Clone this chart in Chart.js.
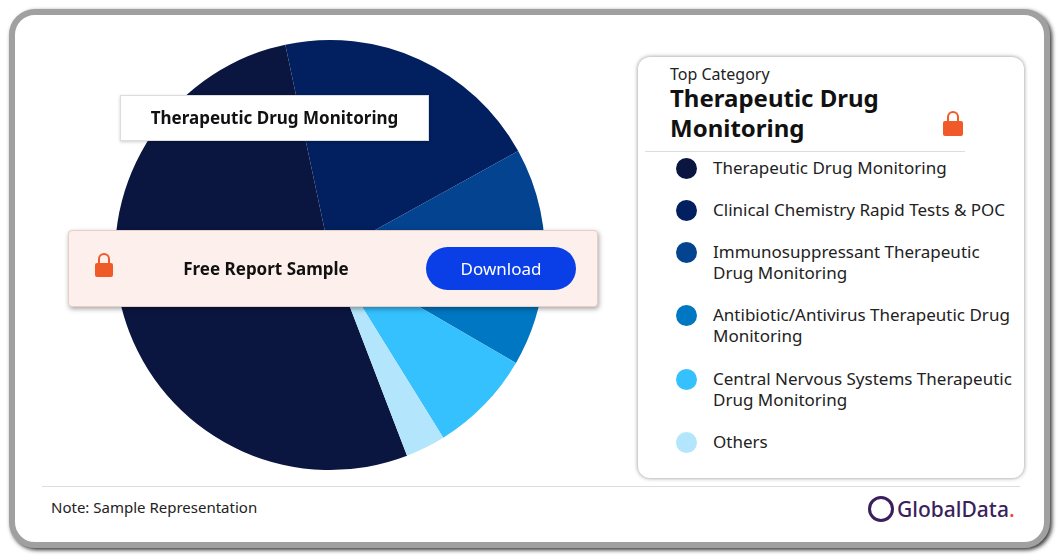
<!DOCTYPE html>
<html><head><meta charset="utf-8">
<script src="https://cdn.jsdelivr.net/npm/chart.js@4"></script>
<style>
body{margin:0;width:1059px;height:555px;background:#fff;font-family:"Noto Sans","Open Sans",sans-serif;position:relative;overflow:hidden}
#frame{position:absolute;left:9px;top:9px;width:1029px;height:527px;border:6px solid #a0a0a0;border-radius:26px;box-shadow:2px 2px 4px #333;background:#fff}
#pie{position:absolute;left:110px;top:35px;width:440px;height:440px}
.abs{position:absolute}
#legbox{left:638px;top:57px;width:386px;height:421px;border-radius:12px;box-shadow:0 0 4px rgba(0,0,0,.45);background:#fff}
.item{position:absolute;left:713px;font-size:17px;color:#222;line-height:21px;width:300px}
.dot{position:absolute;left:676px;width:21px;height:21px;border-radius:50%}
</style></head><body>
<div id="frame"></div>
<div class="abs" style="left:42px;top:486px;width:978px;height:1px;background:#ddd"></div>
<div class="abs" style="left:51px;top:497px;font-size:15px;color:#222">Note: Sample Representation</div>
<div class="abs" style="left:868px;top:495px;font-size:21px;color:#3a1f5c;font-weight:500"><span style="display:inline-block;width:20px;height:20px;border:3px solid #3a1f5c;border-radius:50%;vertical-align:-5px;margin-right:3px"></span>GlobalData<span style="color:#e94e1b">.</span></div>
<div id="pie"><canvas id="c" width="440" height="440"></canvas></div>
<div class="abs" style="left:120px;top:95px;width:307px;height:44px;background:#fff;border:1px solid #ddd;box-shadow:0 1px 3px rgba(0,0,0,.2);text-align:center;line-height:44px;font-weight:bold;font-size:17px;color:#111">Therapeutic Drug Monitoring</div>
<div class="abs" style="left:68px;top:230px;width:528px;height:75px;background:#fdf0ec;border:1px solid #e6cfc8;border-radius:4px;box-shadow:1px 2px 5px rgba(0,0,0,.35)"></div>
<div class="abs" style="left:95px;top:263px;width:18px;height:14px;background:#f05a28;border-radius:2px"></div>
<div class="abs" style="left:98px;top:253px;width:8px;height:10px;border:2px solid #f05a28;border-bottom:none;border-radius:6px 6px 0 0"></div>
<div class="abs" style="left:160px;top:257px;width:212px;text-align:center;font-weight:bold;font-size:17px;color:#111">Free Report Sample</div>
<div class="abs" style="left:426px;top:247px;width:150px;height:43px;border-radius:22px;background:#0a3ee6;color:#fff;font-size:17px;text-align:center;line-height:43px">Download</div>
<div id="legbox" class="abs"></div>
<div class="abs" style="left:670px;top:63px;font-size:16px;color:#222">Top Category</div>
<div class="abs" style="left:670px;top:83px;font-size:24px;font-weight:bold;color:#111;line-height:30px;width:240px">Therapeutic Drug Monitoring</div>
<div class="abs" style="left:943px;top:121px;width:20px;height:15px;background:#f05a28;border-radius:2px"></div>
<div class="abs" style="left:947px;top:111px;width:8px;height:10px;border:2px solid #f05a28;border-bottom:none;border-radius:6px 6px 0 0"></div>
<div class="abs" style="left:645px;top:151px;width:320px;height:1px;background:#ddd"></div>
<div id="leg"></div>
<script>
const categories=["Therapeutic Drug Monitoring","Clinical Chemistry Rapid Tests & POC","Immunosuppressant Therapeutic Drug Monitoring","Antibiotic/Antivirus Therapeutic Drug Monitoring","Central Nervous Systems Therapeutic Drug Monitoring","Others"];
const values=[52.5,20.3,9.4,7.0,7.8,3.0];
const colors=["#0b1640","#02205f","#03438f","#0077c2","#35c0fe","#b3e6fc"];
const rowTops=[158,200,242,305,369,432];
const leg=document.getElementById('leg');
categories.forEach((c,i)=>{
  const d=document.createElement('div');d.className='dot';d.style.top=(rowTops[i])+'px';d.style.background=colors[i];leg.appendChild(d);
  const t=document.createElement('div');t.className='item';t.style.top=(rowTops[i]-1)+'px';t.textContent=c;leg.appendChild(t);
});
new Chart(document.getElementById('c'),{type:'pie',data:{labels:categories,datasets:[{data:values,backgroundColor:colors,borderWidth:0}]},
options:{responsive:false,animation:false,rotation:159,layout:{padding:5},plugins:{legend:{display:false},tooltip:{enabled:false}}}});
</script>
</body></html>
